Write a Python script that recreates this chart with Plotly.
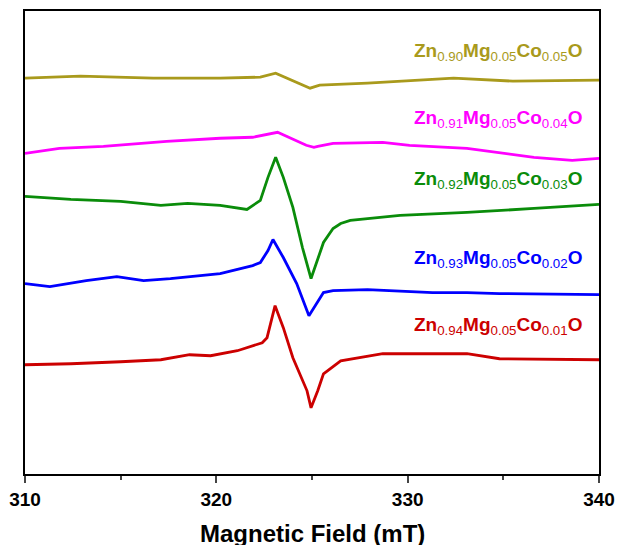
import plotly.graph_objects as go

# Magnetic field (mT) sample points and stacked EPR intensities (a.u., offset)
field_090 = [310.0, 312.9, 316.7, 320.2, 322.3, 323.1, 324.9, 325.4, 327.9, 332.4, 335.5, 338.3, 340.0]
int_090 = [395, 397, 395, 395, 396, 400, 385, 388, 390, 395, 392, 393, 393]

field_091 = [310.0, 311.8, 314.1, 317.4, 320.2, 321.9, 323.2, 324.7, 325.1, 325.3, 326.1, 328.7, 330.1,
             333.1, 336.6, 338.6, 340.0]
int_091 = [320, 325, 327, 332, 335, 336, 341, 328, 326, 327, 330, 331, 328, 325, 316, 313, 315]

field_092 = [310.0, 312.4, 315.0, 317.1, 318.5, 320.2, 321.6, 322.3, 322.7, 323.1, 323.5, 324.0, 324.5,
             324.95, 325.6, 326.1, 326.5, 327.0, 329.6, 333.1, 336.6, 339.2, 340.0]
int_092 = [277, 274, 272, 268, 270, 268, 264, 273, 296, 316, 296, 266, 226, 195, 231, 245, 250, 253,
           258, 261, 265, 268, 269]

field_093 = [310.0, 311.3, 313.2, 314.8, 316.2, 317.6, 320.2, 321.9, 322.3, 322.7, 322.96, 323.5, 324.2,
             324.84, 325.6, 326.1, 327.9, 331.3, 333.1, 334.8, 340.0]
int_093 = [190, 187, 193, 197, 193, 195, 200, 208, 211, 223, 234, 216, 190, 158, 181, 183, 184, 181,
           181, 180, 179]

field_094 = [310.0, 312.4, 315.0, 317.1, 318.6, 319.7, 321.1, 322.4, 322.65, 323.07, 323.5, 324.0,
             324.74, 324.95, 325.3, 325.6, 326.5, 328.7, 331.3, 333.1, 334.8, 340.0]
int_094 = [109, 110, 112, 114, 119, 118, 123, 131, 136, 168, 146, 116, 83, 66, 83, 100, 113, 120, 120,
           120, 115, 114]

zn = ["0.90", "0.91", "0.92", "0.93", "0.94"]
mg = ["0.05", "0.05", "0.05", "0.05", "0.05"]
co = ["0.05", "0.04", "0.03", "0.02", "0.01"]
label_y = [421, 354, 293, 215, 148]
label_x = 339.2
colors = ["#A99A1C", "#FF00FF", "#0A8C0A", "#0000FF", "#CC0000"]

tick_vals = [310, 320, 330, 340]
x_title = "Magnetic Field (mT)"

series = [(field_090, int_090), (field_091, int_091), (field_092, int_092),
          (field_093, int_093), (field_094, int_094)]

fig = go.Figure()
for (fx, fy), c in zip(series, colors):
    fig.add_trace(go.Scatter(x=fx, y=fy, mode="lines",
                             line=dict(color=c, width=2.8), showlegend=False,
                             hoverinfo="skip"))

for a, b, d, y, c in zip(zn, mg, co, label_y, colors):
    txt = ("<b>Zn</b><sub>%s</sub><b>Mg</b><sub>%s</sub><b>Co</b><sub>%s</sub><b>O</b>"
           % (a, b, d))
    fig.add_annotation(x=label_x, y=y, text=txt, showarrow=False,
                       xanchor="right", yanchor="middle",
                       font=dict(family="Liberation Sans, Arial", size=19, color=c))

# axis title placed as paper annotation
fig.add_annotation(x=0.5, y=-0.129, xref="paper", yref="paper", text="<b>%s</b>" % x_title,
                   showarrow=False, xanchor="center", yanchor="middle",
                   font=dict(family="Liberation Sans, Arial", size=24, color="black"))

fig.update_layout(
    width=618, height=545,
    margin=dict(l=25, r=19, t=11, b=71, autoexpand=False),
    paper_bgcolor="white", plot_bgcolor="white",
    font=dict(family="Liberation Sans, Arial", color="black"),
)
fig.update_xaxes(
    range=[310, 340], tickvals=tick_vals, ticktext=["<b>%d</b>" % v for v in tick_vals],
    tickfont=dict(size=19), ticks="outside", ticklen=7, tickwidth=2,
    minor=dict(tickvals=[315, 325, 335], ticks="outside", ticklen=4, tickwidth=2),
    showline=True, linewidth=2, linecolor="black", mirror=True, showgrid=False, zeroline=False,
    automargin=False,
)
fig.update_yaxes(
    range=[0, 462], showticklabels=False, ticks="", showline=True, linewidth=2,
    linecolor="black", mirror=True, showgrid=False, zeroline=False, automargin=False,
)

fig.write_html(
    "out.html",
    config={"displayModeBar": False},
    post_script="document.body.style.margin='0';document.body.style.overflow='hidden';",
)
